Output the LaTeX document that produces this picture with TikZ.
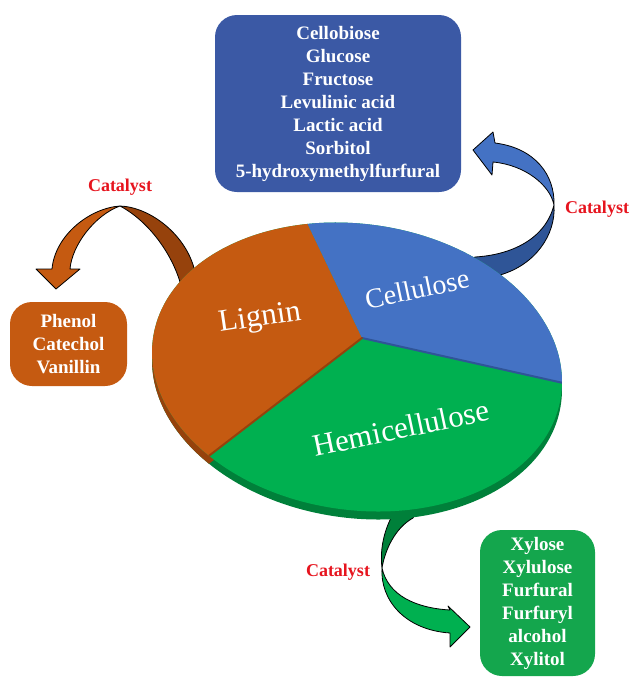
\documentclass[tikz,border=0pt]{standalone}
\usepackage{fontspec}
\setmainfont{Liberation Serif}
\definecolor{ligorange}{RGB}{197,90,17}
\definecolor{ligdark}{RGB}{150,66,12}
\definecolor{celblue}{RGB}{68,114,196}
\definecolor{celdark}{RGB}{47,85,151}
\definecolor{hemgreen}{RGB}{0,176,80}
\definecolor{hemdark}{RGB}{0,128,58}
\definecolor{boxblue}{RGB}{59,89,165}
\definecolor{boxgreen}{RGB}{20,166,77}
\definecolor{catred}{RGB}{230,20,30}
\begin{document}
\begin{tikzpicture}[x=1pt,y=-1pt, line join=round, line cap=round,
	box/.style={rounded corners=22pt, text=white, inner sep=0pt, align=center,
		font=\fontsize{19}{23}\selectfont\bfseries},
	cat/.style={text=catred, font=\fontsize{18}{20}\selectfont\bfseries},
	slicelabel/.style={text=white, font=\fontsize{#1}{#1}\selectfont},
	ribbon/.style={draw=black, line width=.8pt}]
	\def\cx{357} \def\cy{367} % tam ellipse
	\def\ra{206} \def\rb{143}
	\def\px{362} \def\py{338} % dinh cac mien
	\useasboundingbox (0,0) rectangle (633,678);
	% mui ten (ve truoc, nam duoi hinh tron)
	\fill[ligdark, ribbon] (120,206) .. controls (150,207) and (187,235) .. (195,272) -- (198,300) -- (180,300) -- (180,282) .. controls (172,255) and (150,222) .. (120,206) -- cycle;
	\fill[ligorange, ribbon] (120,206) .. controls (90,208) and (55,235) .. (52,269) -- (36,269) -- (56,289) -- (80,269) -- (70,269) .. controls (72,245) and (95,215) .. (120,206) -- cycle;
	\fill[celdark, ribbon] (554,205) .. controls (556,235) and (535,265) .. (500,275) -- (490,285) -- (465,265) -- (475,257) .. controls (510,255) and (545,240) .. (554,205) -- cycle;
	\fill[celblue, ribbon] (554,205) .. controls (555,175) and (535,148) .. (495,143) -- (493,132) -- (473,150) -- (492,175) -- (493,162) .. controls (525,165) and (550,185) .. (554,205) -- cycle;
	\fill[hemdark, ribbon] (395,505) -- (390,520) .. controls (383,535) and (380,552) .. (382,568) .. controls (385,550) and (395,528) .. (413,518) -- (420,505) -- cycle;
	\fill[hemgreen, ribbon] (382,568) .. controls (380,600) and (405,630) .. (450,633) -- (450,647) -- (470,627) -- (448,606) -- (450,610) .. controls (415,608) and (388,595) .. (382,568) -- cycle;
	% vanh duoi
	\begin{scope}[shift={(0,8)}]
		\clip[rotate around={-8:(\cx,\cy)}] (\cx,\cy) ellipse [x radius=\ra, y radius=\rb];
		\fill[hemdark] (0,0) rectangle (633,678);
		\fill[ligdark] (\px,\py) -- (299,206) -- (140,206) -- (140,475) -- (184,475) -- cycle;
		\fill[celdark] (\px,\py) -- (299,206) -- (590,206) -- (590,389) -- cycle;
	\end{scope}
	% mat tren
	\begin{scope}
		\clip[rotate around={-8:(\cx,\cy)}] (\cx,\cy) ellipse [x radius=\ra, y radius=\rb];
		\fill[hemgreen] (0,0) rectangle (633,678);
		\fill[ligorange] (\px,\py) -- (299,206) -- (140,206) -- (140,475) -- (184,475) -- cycle;
		\fill[celblue] (\px,\py) -- (299,206) -- (590,206) -- (590,389) -- cycle;
		\draw[celdark, line width=2pt] (\px,\py) -- (590,389);
		\draw[ligdark, line width=2pt] (\px,\py) -- (184,475);
	\end{scope}
	\node[slicelabel=31, rotate=8.5] (lignin) at (260,319) {Lignin};
	\node[slicelabel=28, rotate=12] (cellulose) at (417,289) {Cellulose};
	\node[slicelabel=31, rotate=12] (hemi) at (401,428) {Hemicellulose};
	% cac hop san pham
	\node[box, fill=boxblue, minimum width=246pt, minimum height=177pt] (celprod) at (338,103.5)
		{Cellobiose\\Glucose\\Fructose\\Levulinic acid\\Lactic acid\\Sorbitol\\5-hydroxymethylfurfural};
	\node[box, fill=ligorange, minimum width=117pt, minimum height=84pt] (ligprod) at (68.5,344)
		{Phenol\\Catechol\\Vanillin};
	\node[box, fill=boxgreen, minimum width=115pt, minimum height=146pt] (hemprod) at (537.5,603)
		{Xylose\\Xylulose\\Furfural\\Furfuryl\\alcohol\\Xylitol};
	\node[cat] (catlig) at (120,187) {Catalyst};
	\node[cat] (catcel) at (597,209) {Catalyst};
	\node[cat] (cathem) at (338,572) {Catalyst};
\end{tikzpicture}
\end{document}
